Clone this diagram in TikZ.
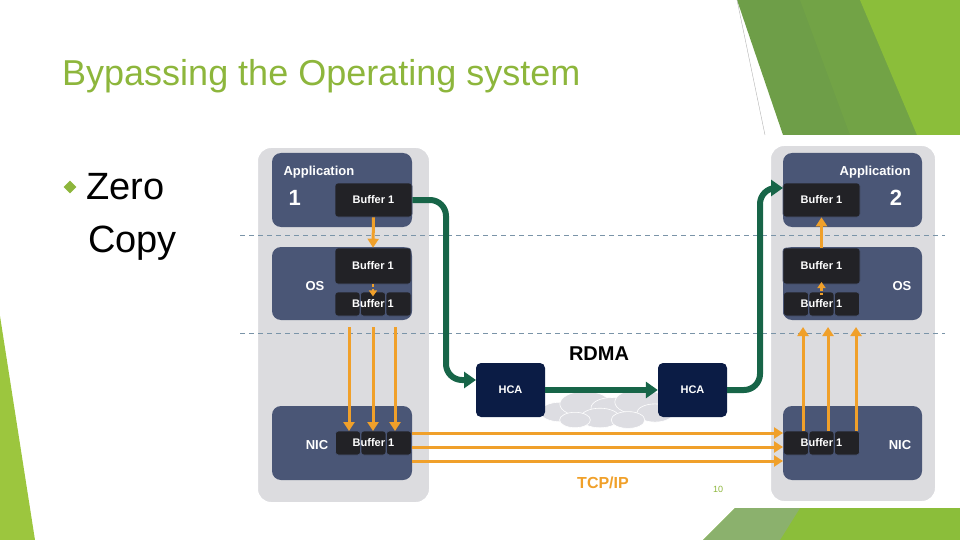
\documentclass[tikz,border=0pt]{standalone}
\usepackage{fontspec}
\setmainfont{Liberation Sans}
\usetikzlibrary{arrows.meta,shapes.geometric}
\definecolor{ttl}{HTML}{8DB63C}
\definecolor{gA}{HTML}{6E9E48}
\definecolor{gB}{HTML}{8BBE3A}
\definecolor{gC}{HTML}{9CC63E}
\definecolor{panel}{HTML}{DCDCDF}
\definecolor{boxc}{HTML}{4A5676}
\definecolor{bufc}{HTML}{222226}
\definecolor{hca}{HTML}{0B1C45}
\definecolor{org}{HTML}{F0A02A}
\definecolor{grn}{HTML}{176548}
\definecolor{dashc}{HTML}{7A94A8}
\begin{document}
\begin{tikzpicture}[x=1pt,y=-1pt,
 panel/.style={fill=panel,draw=white,line width=2pt,rounded corners=14pt},
 layer/.style={fill=boxc,rounded corners=9pt},
 buf/.style={fill=bufc,rounded corners=3pt,draw=boxc,line width=0.6pt,text=white,font=\bfseries\fontsize{11}{11}\selectfont},
 lbl/.style={text=white,font=\bfseries\fontsize{13}{13}\selectfont},
 hcab/.style={fill=hca,rounded corners=5pt,text=white,font=\bfseries\fontsize{11}{11}\selectfont},
 oar/.style={draw=org,line width=3pt,-{Triangle[length=9pt,width=11pt]}},
 dot/.style={draw=org,line width=2.5pt,dotted,-{Triangle[length=6pt,width=8pt]}},
 dl/.style={draw=dashc,line width=0.8pt,dash pattern=on 5pt off 4pt},
 gar/.style={draw=grn,line width=6pt,-{Triangle[length=12pt,width=16pt]},rounded corners=16pt}]
\useasboundingbox (0,0) rectangle (960,540);
% decorations
\fill[gA] (737,0) -- (960,0) -- (960,135) -- (783,135) -- cycle;
\fill[gA!85!gB] (800,0) -- (900,0) -- (920,135) -- (850,135) -- cycle;
\fill[gB] (860,0) -- (960,0) -- (960,135) -- (917,135) -- cycle;
\draw[gray!60,line width=0.4pt] (737,0) -- (765,135);
\fill[gC] (0,316) -- (35,540) -- (0,540) -- cycle;
\fill[gB] (703,540) -- (735,508) -- (960,508) -- (960,540) -- cycle;
\fill[gA!80] (703,540) -- (735,508) -- (800,508) -- (780,540) -- cycle;
% title
\node[anchor=base west,text=ttl,font=\fontsize{36}{36}\selectfont,inner sep=0pt] (title) at (62,86) {Bypassing the Operating system};
\node[diamond,fill=ttl,inner sep=0pt,minimum size=13pt] (bul) at (70,187) {};
\node[anchor=base west,font=\fontsize{38}{38}\selectfont,inner sep=0pt] (zero) at (86,200) {Zero};
\node[anchor=base west,font=\fontsize{38}{38}\selectfont,inner sep=0pt] (copy) at (88,252) {Copy};
% panels
\draw[panel] (257,147) rectangle (430,503);
\draw[panel] (770,145) rectangle (936,502);
% dashed
\draw[dl] (240,235) -- (945,235);
\draw[dl] (240,333) -- (945,333);
\fill[layer] (272,153) rectangle (412,227);
\fill[layer] (272,247) rectangle (412,320);
\fill[layer] (272,406) rectangle (412,480);
\fill[layer] (783,153) rectangle (922,227);
\fill[layer] (783,247) rectangle (922,320);
\fill[layer] (783,406) rectangle (922,480);
\node[lbl,anchor=west] (a1) at (280,172) {Application};
\node[lbl,anchor=west,font=\bfseries\fontsize{22}{22}\selectfont] (n1) at (285,198) {1};
\node[lbl] (os1) at (315,286) {OS};
\node[lbl] (nic1) at (317,445) {NIC};
\node[lbl,anchor=east] (a2) at (914,172) {Application};
\node[lbl,font=\bfseries\fontsize{22}{22}\selectfont] (n2) at (896,198) {2};
\node[lbl] (os2) at (902,286) {OS};
\node[lbl] (nic2) at (900,445) {NIC};
% buffers left
\node[buf,minimum width=77pt,minimum height=34pt] (b1) at (373.5,200) {Buffer 1};
\node[buf,minimum width=76pt,minimum height=36pt] (b2) at (373,266) {Buffer 1};
\node[buf,minimum width=25pt,minimum height=24pt] (b3a) at (347.5,304) {};
\node[buf,minimum width=25pt,minimum height=24pt] (b3b) at (373,304) {};
\node[buf,minimum width=25pt,minimum height=24pt] (b3c) at (398.5,304) {};
\node[text=white,font=\bfseries\fontsize{11}{11}\selectfont] (b3) at (373,304) {Buffer 1};
\node[buf,minimum width=25pt,minimum height=24pt] (b4a) at (348,443) {};
\node[buf,minimum width=25pt,minimum height=24pt] (b4b) at (373.5,443) {};
\node[buf,minimum width=25pt,minimum height=24pt] (b4c) at (399,443) {};
\node[text=white,font=\bfseries\fontsize{11}{11}\selectfont] (b4) at (373.5,443) {Buffer 1};
% buffers right
\node[buf,minimum width=77pt,minimum height=34pt] (c1) at (821.5,200) {Buffer 1};
\node[buf,minimum width=77pt,minimum height=36pt] (c2) at (821.5,266) {Buffer 1};
\node[buf,minimum width=25pt,minimum height=24pt] (c3a) at (796,304) {};
\node[buf,minimum width=25pt,minimum height=24pt] (c3b) at (821.5,304) {};
\node[buf,minimum width=25pt,minimum height=24pt] (c3c) at (847,304) {};
\node[text=white,font=\bfseries\fontsize{11}{11}\selectfont] (c3) at (821.5,304) {Buffer 1};
\node[buf,minimum width=25pt,minimum height=24pt] (c4a) at (796,443) {};
\node[buf,minimum width=25pt,minimum height=24pt] (c4b) at (821.5,443) {};
\node[buf,minimum width=25pt,minimum height=24pt] (c4c) at (847,443) {};
\node[text=white,font=\bfseries\fontsize{11}{11}\selectfont] (c4) at (821.5,443) {Buffer 1};
% cloud
\begin{scope}[fill=blue!8!gray!25,draw=white,line width=0.6pt]
\foreach \x/\y/\r in {560/412/14,585/404/18,612/408/15,640/402/18,655/413/13,600/418/14,628/420/12,575/420/11}
 \filldraw (\x,\y) ellipse ({\r*1.4pt} and {\r*0.7pt});
\end{scope}
% HCA
\node[hcab,minimum width=69pt,minimum height=54pt] (h1) at (510.5,390) {HCA};
\node[hcab,minimum width=69pt,minimum height=54pt] (h2) at (692.5,390) {HCA};
\node[font=\bfseries\fontsize{20}{20}\selectfont] (rdma) at (599,354) {RDMA};
\node[text=org,font=\bfseries\fontsize{16}{16}\selectfont] (tcp) at (603,483) {TCP/IP};
\node[text=ttl,font=\fontsize{9}{9}\selectfont] (pg) at (718,489) {10};
% green arrows
\coordinate (g1) at (476,380);
\coordinate (g2) at (783,188);
\draw[gar] (b1.east) -- (446,200) -- (446,380) -- (g1);
\draw[draw=grn,line width=6pt,-{Triangle[length=12pt,width=16pt]}] (h1.east) -- (h2.west);
\draw[gar] (h2.east) -- (760,390) -- (760,188) -- (g2);
% orange left
\draw[oar] (b1.south) -- (b2.north);
\draw[dot] (373,284) -- (b3.north);
\foreach \x in {349,373,395} \draw[oar] (\x,327) -- (\x,431);
\foreach \y in {433,447,461} \draw[oar] (412,\y) -- (783,\y);
% orange right
\draw[oar] (c2.north) -- (c1.south);
\draw[dot] (821.5,295) -- (821.5,282);
\foreach \x in {803,828,856} \draw[oar] (\x,431) -- (\x,327);
\end{tikzpicture}
\end{document}
